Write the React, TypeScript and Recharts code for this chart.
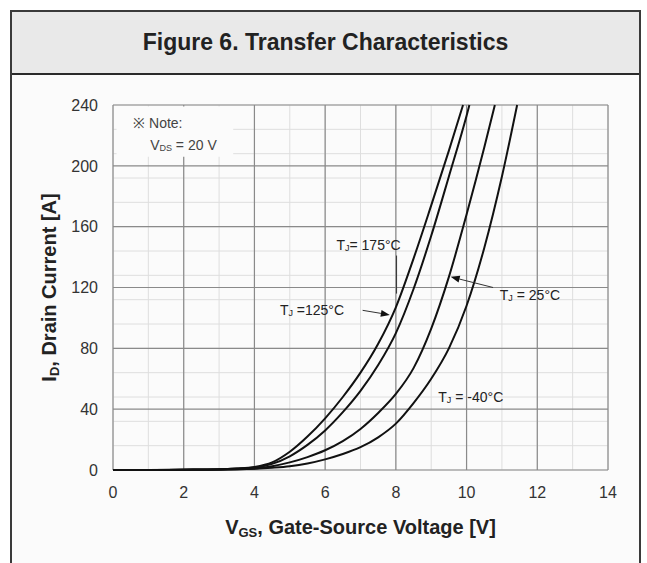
import React from "react";
import {
  LineChart,
  Line,
  XAxis,
  YAxis,
  CartesianGrid,
  ReferenceLine,
  ReferenceArea,
  ReferenceDot,
} from "recharts";

// gate-source voltage [V] and drain current [A], one pair per junction temperature
const vgs125 = [0, 1, 2, 3, 3.5, 4, 4.5, 5, 5.5, 6, 6.5, 7, 7.5, 8, 8.5, 9, 9.5, 9.9];
const id125 = [0, 0, 0.2, 0.5, 1, 2, 5, 12, 22, 34, 48, 64, 83, 107, 139, 174, 210, 240];

const vgs175 = [0, 1, 2, 3, 3.5, 4, 4.5, 5, 5.5, 6, 6.5, 7, 7.5, 8, 8.5, 9, 9.5, 10, 10.08];
const id175 = [0, 0, 0.2, 0.5, 1, 1.5, 4, 9, 16.5, 26, 38, 52, 69, 90, 119, 154, 193, 233, 240];

const vgs25 = [0, 1, 2, 3, 3.5, 4, 4.5, 5, 5.5, 6, 6.5, 7, 7.5, 8, 8.5, 9, 9.5, 10, 10.5, 10.8];
const id25 = [0, 0, 0.1, 0.3, 0.6, 1, 2.5, 5, 8.5, 13, 19, 27, 37.5, 50, 67, 93, 127, 168, 212, 240];

const vgsM40 = [0, 1, 2, 3, 3.5, 4, 4.5, 5, 5.5, 6, 6.5, 7, 7.5, 8, 8.5, 9, 9.5, 10, 10.5, 11, 11.43];
const idM40 = [0, 0, 0.1, 0.2, 0.4, 0.8, 1.5, 2.5, 4.3, 7, 10.5, 15, 21.5, 30.5, 44, 60, 80, 108, 146, 193, 240];

const xTicks = [0, 2, 4, 6, 8, 10, 12, 14];
const yTicks = [0, 40, 80, 120, 160, 200, 240];
const xMinor = [0, 1, 2, 3, 4, 5, 6, 7, 8, 9, 10, 11, 12, 13, 14];
const yMinor = [
  0, 8, 16, 24, 32, 40, 48, 56, 64, 72, 80, 88, 96, 104, 112, 120, 128, 136, 144,
  152, 160, 168, 176, 184, 192, 200, 208, 216, 224, 232, 240,
];

const toPoints = (xs: number[], ys: number[]) => xs.map((v, i) => ({ vgs: v, id: ys[i] }));

const FONT = "'Liberation Sans', Arial, sans-serif";

const ArrowLine = (props: any) => {
  const { x1, y1, x2, y2 } = props;
  const a = Math.atan2(y2 - y1, x2 - x1);
  const len = 9;
  const half = 3.5;
  const bx = x2 - len * Math.cos(a);
  const by = y2 - len * Math.sin(a);
  const px = -Math.sin(a) * half;
  const py = Math.cos(a) * half;
  return (
    <g>
      <line x1={x1} y1={y1} x2={bx} y2={by} stroke="#333" strokeWidth={1} />
      <polygon points={`${x2},${y2} ${bx + px},${by + py} ${bx - px},${by - py}`} fill="#111" />
    </g>
  );
};

const PlainLine = (props: any) => (
  <line x1={props.x1} y1={props.y1} x2={props.x2} y2={props.y2} stroke="#333" strokeWidth={1} />
);

const tempLabel = (rest: string) => (p: any) => (
  <text x={p.cx} y={p.cy} fontFamily={FONT} fontSize={14} fill="#222" dominantBaseline="central">
    T
    <tspan fontSize={9} dy={3}>J</tspan>
    <tspan dy={-3}>{rest}</tspan>
  </text>
);

const noteLabel = (p: any) => (
  <text x={p.cx} y={p.cy} fontFamily={FONT} fontSize={14} fill="#444" dominantBaseline="central">
    ※ Note:
  </text>
);

const vdsLabel = (p: any) => (
  <text x={p.cx} y={p.cy} fontFamily={FONT} fontSize={14} fill="#444" dominantBaseline="central">
    V
    <tspan fontSize={9} dy={3}>DS</tspan>
    <tspan dy={-3}> = 20 V</tspan>
  </text>
);

const YTitle = (props: any) => {
  const vb = props.viewBox;
  const x = vb.x + 39;
  const y = vb.y + vb.height / 2;
  return (
    <text
      x={x}
      y={y}
      transform={`rotate(-90, ${x}, ${y})`}
      textAnchor="middle"
      dominantBaseline="central"
      fontFamily={FONT}
      fontSize={20}
      fontWeight="bold"
      fill="#222"
    >
      I
      <tspan fontSize={13} dy={5}>D</tspan>
      <tspan dy={-5}>, Drain Current [A]</tspan>
    </text>
  );
};

const XTitle = (props: any) => {
  const vb = props.viewBox;
  const x = vb.x + vb.width / 2;
  const y = vb.y + 57;
  return (
    <text
      x={x}
      y={y}
      textAnchor="middle"
      dominantBaseline="central"
      fontFamily={FONT}
      fontSize={20}
      fontWeight="bold"
      fill="#222"
    >
      V
      <tspan fontSize={13} dy={5}>GS</tspan>
      <tspan dy={-5}>, Gate-Source Voltage [V]</tspan>
    </text>
  );
};

export default function App() {
  return (
    <div>
      <div
        style={{
          position: "absolute",
          left: 10,
          top: 10,
          width: 631,
          height: 553,
          boxSizing: "border-box",
          borderTop: "2px solid #3a3a3a",
          borderLeft: "2px solid #3a3a3a",
          borderRight: "2px solid #3a3a3a",
          background: "#fbfbfb",
        }}
      >
        <div
          style={{
            height: 61,
            background: "#e9e9e9",
            borderBottom: "2px solid #2a2a2a",
            display: "flex",
            alignItems: "center",
            justifyContent: "center",
            fontFamily: FONT,
            fontWeight: "bold",
            fontSize: 23,
            color: "#222",
          }}
        >
          Figure 6. Transfer Characteristics
        </div>
      </div>
      <div style={{ position: "absolute", left: 10, top: 73 }}>
        <LineChart width={631} height={490} margin={{ top: 32, right: 33, left: 0, bottom: 33 }}>
          <CartesianGrid
            verticalValues={xMinor}
            horizontalValues={yMinor}
            stroke="#dedede"
            strokeWidth={1}
          />
          <CartesianGrid
            verticalValues={xTicks}
            horizontalValues={yTicks}
            stroke="#8a8a8a"
            strokeWidth={1.2}
          />
          <XAxis
            type="number"
            dataKey="vgs"
            domain={[0, 14]}
            ticks={xTicks}
            axisLine={false}
            tickLine={false}
            tickSize={0}
            tickMargin={17}
            height={60}
            tick={{ fontFamily: FONT, fontSize: 16, fill: "#333" }}
            label={{ content: XTitle }}
          />
          <YAxis
            type="number"
            dataKey="id"
            domain={[0, 240]}
            ticks={yTicks}
            axisLine={false}
            tickLine={false}
            tickSize={0}
            tickMargin={15}
            width={103}
            tick={{ fontFamily: FONT, fontSize: 16, fill: "#333" }}
            label={{ content: YTitle }}
          />
          <ReferenceArea x1={0.1} x2={3.4} y1={206} y2={239} fill="#fbfbfb" fillOpacity={1} stroke="none" />

          <Line data={toPoints(vgs125, id125)} dataKey="id" type="monotone" stroke="#111" strokeWidth={2} dot={false} isAnimationActive={false} />
          <Line data={toPoints(vgs175, id175)} dataKey="id" type="monotone" stroke="#111" strokeWidth={2} dot={false} isAnimationActive={false} />
          <Line data={toPoints(vgs25, id25)} dataKey="id" type="monotone" stroke="#111" strokeWidth={2} dot={false} isAnimationActive={false} />
          <Line data={toPoints(vgsM40, idM40)} dataKey="id" type="monotone" stroke="#111" strokeWidth={2} dot={false} isAnimationActive={false} />

          <ReferenceLine segment={[{ x: 8.02, y: 141 }, { x: 8.02, y: 116 }]} shape={PlainLine} />
          <ReferenceLine segment={[{ x: 7.06, y: 105 }, { x: 7.83, y: 102 }]} shape={ArrowLine} />
          <ReferenceLine segment={[{ x: 10.75, y: 120 }, { x: 9.55, y: 127 }]} shape={ArrowLine} />

          <ReferenceDot x={6.32} y={148} r={0} shape={tempLabel("=  175°C")} />
          <ReferenceDot x={4.72} y={105} r={0} shape={tempLabel(" =125°C")} />
          <ReferenceDot x={10.94} y={115} r={0} shape={tempLabel(" = 25°C")} />
          <ReferenceDot x={9.2} y={48} r={0} shape={tempLabel(" = -40°C")} />
          <ReferenceDot x={0.57} y={228} r={0} shape={noteLabel} />
          <ReferenceDot x={1.05} y={214} r={0} shape={vdsLabel} />
        </LineChart>
      </div>
    </div>
  );
}
